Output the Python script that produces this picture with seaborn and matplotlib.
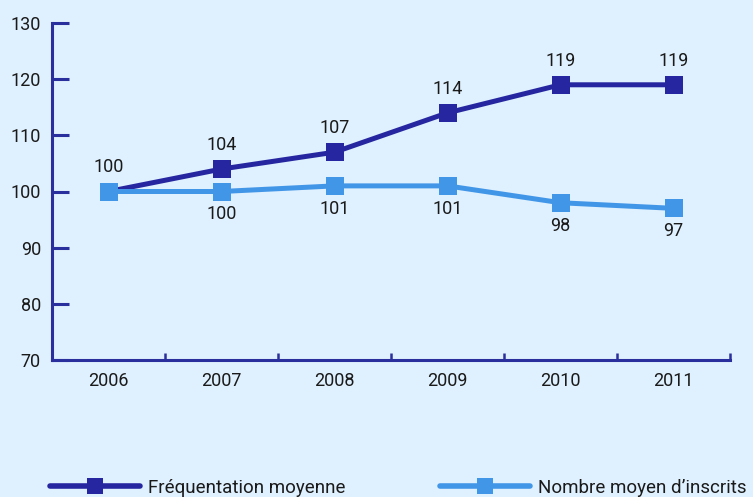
import matplotlib
matplotlib.use("Agg")
import matplotlib.pyplot as plt
import pandas as pd
import seaborn as sns
from matplotlib.lines import Line2D

years = ["2006", "2007", "2008", "2009", "2010", "2011"]
frequentation = [100, 104, 107, 114, 119, 119]
inscrits = [100, 100, 101, 101, 98, 97]
series_names = ["Fréquentation moyenne", "Nombre moyen d’inscrits"]
y_ticks = [70, 80, 90, 100, 110, 120, 130]

BG = "#dff0fe"
DARK = "#2626a0"
LIGHT = "#4296e8"
AXIS = "#2a2f9e"
TXT = "#1a1a1a"

df = pd.DataFrame({
    "year": years * 2,
    "value": frequentation + inscrits,
    "serie": [series_names[0]] * len(years) + [series_names[1]] * len(years),
})

sns.set_style("white")
plt.rcParams["font.family"] = ["Roboto", "DejaVu Sans"]

fig = plt.figure(figsize=(7.53, 4.97), dpi=100, facecolor=BG)
ax = fig.add_axes([52 / 753, 1 - 360 / 497, 678 / 753, 337 / 497])
ax.set_facecolor(BG)

sns.lineplot(data=df, x="year", y="value", hue="serie", style="serie",
             palette=[DARK, LIGHT], markers=["s", "s"], dashes=False,
             linewidth=3.6, markersize=12.5, markeredgewidth=0,
             legend=False, ax=ax)

# value labels: dark series above, light series below (2006 shared)
for i, v in enumerate(frequentation):
    ax.annotate(str(v), (i, v), xytext=(0, 11), textcoords="offset points",
                ha="center", va="bottom", fontsize=13, color=TXT)
for i, v in enumerate(inscrits):
    if i == 0:
        continue
    ax.annotate(str(v), (i, v), xytext=(0, -10), textcoords="offset points",
                ha="center", va="top", fontsize=13, color=TXT)

ax.set_xlim(-0.5, 5.5)
ax.set_ylim(70, 130)
ax.set_yticks(y_ticks)
ax.set_xticks(range(len(years)))
ax.set_xticklabels(years)
ax.set_xticks([i - 0.5 for i in range(len(years) + 1)], minor=True)
ax.set_xlabel("")
ax.set_ylabel("")

for side in ["top", "right"]:
    ax.spines[side].set_visible(False)
for side in ["left", "bottom"]:
    ax.spines[side].set_color(AXIS)
    ax.spines[side].set_linewidth(2.2)

ax.tick_params(axis="y", left=True, direction="in", length=12, width=2.2, color=AXIS,
               labelsize=13, pad=8, labelcolor=TXT)
ax.tick_params(axis="x", which="major", bottom=True, length=0, labelsize=13, pad=9,
               labelcolor=TXT)
ax.tick_params(axis="x", which="minor", bottom=True, direction="in", length=5, width=1.8,
               color=AXIS)

# legend, one entry each at the bottom
for name, color, x0 in [(series_names[0], DARK, 50 / 753), (series_names[1], LIGHT, 440 / 753)]:
    h = Line2D([], [], color=color, linewidth=4, marker="s", markersize=12,
               markeredgewidth=0, solid_capstyle="round")
    leg = fig.legend([h], [name], loc="center left", bbox_to_anchor=(x0, 1 - 488 / 497),
                     frameon=False, fontsize=13.5, handlelength=4.8, handletextpad=0.4,
                     borderpad=0, borderaxespad=0)
    for t in leg.get_texts():
        t.set_color(TXT)

fig.savefig("out.png", dpi=100, facecolor=BG)
